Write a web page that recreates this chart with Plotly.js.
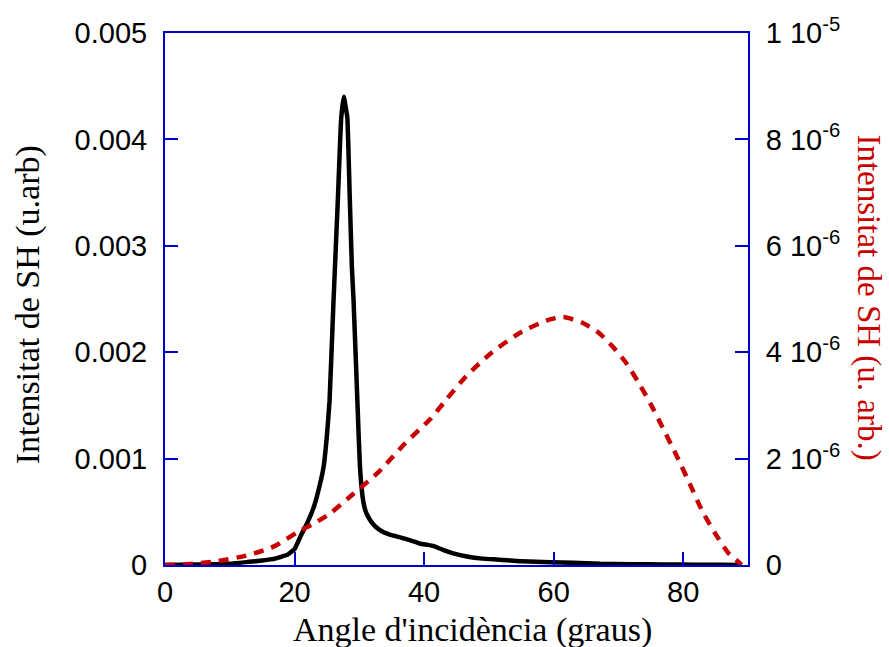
<!DOCTYPE html>
<html>
<head>
<meta charset="utf-8">
<script src="https://cdn.plot.ly/plotly-3.0.1.min.js"></script>
<style>html,body{margin:0;padding:0;background:#fff;}#chart{width:889px;height:647px;}</style>
</head>
<body>
<div id="chart"></div>
<script>
// Black solid curve (left axis)
const angleBlack = [0, 5, 10, 13, 15, 17, 19, 20, 21, 22, 23, 24, 24.5, 25, 25.4, 26.0, 26.7, 27.2, 27.6, 27.9, 28.15, 28.5, 28.85, 29.1, 29.7, 30.1, 30.6, 31.0, 31.4, 31.8, 32.5, 33.7, 35, 36.3, 38, 39.4, 40.5, 41.4, 42.2, 43, 44.5, 46.6, 49, 51.7, 55, 59.5, 63, 67.2, 72, 77, 82, 86, 89];
const shBlack = [0, 0.000004, 0.000012, 0.00003, 0.000042, 0.00006, 0.0001, 0.00015, 0.00028, 0.0004, 0.00055, 0.00078, 0.00093, 0.00122, 0.00154, 0.00246, 0.00346, 0.0042, 0.0044, 0.0043, 0.0042, 0.0035, 0.0028, 0.0025, 0.00154, 0.00092, 0.0006, 0.0005, 0.00045, 0.00041, 0.00036, 0.00031, 0.00028, 0.00026, 0.00023, 0.0002, 0.00019, 0.00018, 0.00016, 0.00014, 0.00011, 0.00008, 0.00006, 0.00005, 0.000035, 0.000026, 0.00002, 0.000011, 0.000008, 0.000005, 0.000003, 0.000002, 0];

// Red dashed curve (right axis)
const angleRed = [0, 3, 8, 13, 17, 20.5, 23, 25.5, 29, 33, 37, 41, 43.5, 46.5, 50.5, 55, 59, 61.5, 64.5, 67, 69, 71, 73, 75, 77, 79, 81, 83, 85, 87, 88.3, 89];
const shRed = [0, 0.01e-6, 0.07e-6, 0.19e-6, 0.36e-6, 0.62e-6, 0.78e-6, 0.97e-6, 1.33e-6, 1.75e-6, 2.28e-6, 2.75e-6, 3.12e-6, 3.55e-6, 4.0e-6, 4.38e-6, 4.6e-6, 4.66e-6, 4.55e-6, 4.36e-6, 4.12e-6, 3.83e-6, 3.45e-6, 3.02e-6, 2.54e-6, 2.05e-6, 1.53e-6, 1.0e-6, 0.58e-6, 0.22e-6, 0.08e-6, 0];

// Tick labels
const xTicks = [0, 20, 40, 60, 80];
const yLeftTicks = [0, 0.001, 0.002, 0.003, 0.004, 0.005];
const yLeftLabels = ['0', '0.001', '0.002', '0.003', '0.004', '0.005'];
const yRightTicks = [0, 2e-6, 4e-6, 6e-6, 8e-6, 1e-5];
const yRightLabels = ['0', '2 10<sup>-6</sup>', '4 10<sup>-6</sup>', '6 10<sup>-6</sup>', '8 10<sup>-6</sup>', '1 10<sup>-5</sup>'];

const xTitle = "Angle d'incidència (graus)";
const yLeftTitle = 'Intensitat de SH (u.arb)';
const yRightTitle = 'Intensitat de SH (u. arb.)';

const blue = '#0000cc';
const red = '#c80000';
const tickFont = {family: 'Liberation Sans, Arial, sans-serif', size: 29, color: '#000'};
const serif = 'Liberation Serif, Times New Roman, serif';

const traces = [
  {x: angleRed, y: shRed, yaxis: 'y2', type: 'scatter', mode: 'lines',
   line: {color: red, width: 4.5, dash: '10px,8px', shape: 'spline', smoothing: 0.6}, hoverinfo: 'skip'},
  {x: angleBlack, y: shBlack, type: 'scatter', mode: 'lines',
   line: {color: '#000', width: 4.5, shape: 'spline', smoothing: 0.4}, hoverinfo: 'skip'}
];

const axisCommon = {
  showgrid: false, zeroline: false, showline: true, linecolor: blue, linewidth: 2,
  ticks: 'inside', ticklen: 13, tickwidth: 2, tickcolor: blue, tickfont: tickFont
};

const layout = {
  width: 889, height: 647,
  margin: {l: 165, r: 141, t: 33, b: 82, pad: 0},
  paper_bgcolor: '#fff', plot_bgcolor: '#fff',
  showlegend: false,
  xaxis: Object.assign({}, axisCommon, {range: [0, 90], tickvals: xTicks, mirror: true}),
  yaxis: Object.assign({}, axisCommon, {range: [0, 0.005], tickvals: yLeftTicks, ticktext: yLeftLabels,
    ticklabelstandoff: 10}),
  yaxis2: Object.assign({}, axisCommon, {range: [0, 1e-5], tickvals: yRightTicks, ticktext: yRightLabels,
    overlaying: 'y', side: 'right', ticklabelstandoff: 10}),
  annotations: [
    {text: xTitle, xref: 'paper', yref: 'paper', x: 0.5266, y: -0.123, xanchor: 'center', yanchor: 'middle',
     showarrow: false, font: {family: serif, size: 34, color: '#000'}},
    {text: yLeftTitle, xref: 'paper', yref: 'paper', x: -0.235, y: 0.49, xanchor: 'center', yanchor: 'middle',
     textangle: -90, showarrow: false, font: {family: serif, size: 34, color: '#000'}},
    {text: yRightTitle, xref: 'paper', yref: 'paper', x: 1.2075, y: 0.503, xanchor: 'center', yanchor: 'middle',
     textangle: 90, showarrow: false, borderpad: 0, font: {family: serif, size: 33, color: red}}
  ]
};

Plotly.newPlot('chart', traces, layout, {displayModeBar: false, staticPlot: true});
</script>
</body>
</html>
